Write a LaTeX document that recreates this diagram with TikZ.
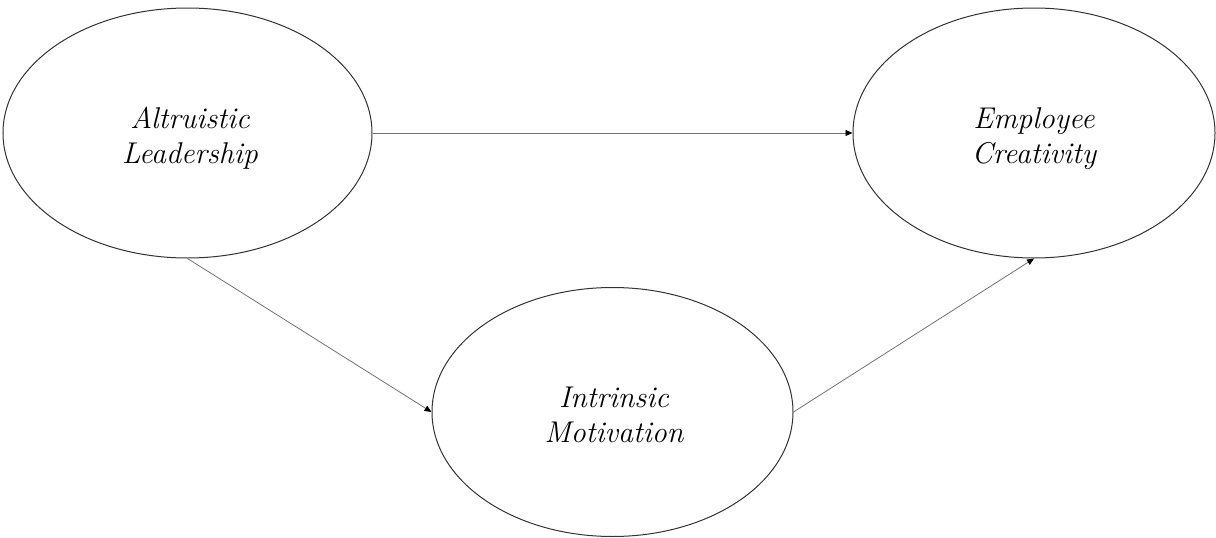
\documentclass[tikz,border=0pt]{standalone}
\usetikzlibrary{shapes.geometric,arrows.meta}
\begin{document}
\begin{tikzpicture}[x=1pt,y=-1pt,
  construct/.style={ellipse,draw=black!80,line width=1pt,inner sep=0pt},
  label text/.style={align=center,font=\fontsize{30}{35}\selectfont\itshape,inner sep=0pt},
  path/.style={draw=black!55,line width=0.8pt,-{Triangle[length=7pt,width=6pt,fill=black,color=black]}}]
\useasboundingbox (0,0) rectangle (1216,538);
\node[construct,minimum width=369pt,minimum height=250pt] (al) at (187.5,133) {};
\node[construct,minimum width=362pt,minimum height=250pt] (ec) at (1034,133) {};
\node[construct,minimum width=361pt,minimum height=249pt] (im) at (612.5,412) {};
\node[label text,anchor=base] (alt) at (190,163) {Altruistic\\Leadership};
\node[label text,anchor=base] (ect) at (1034,163) {Employee\\Creativity};
\node[label text,anchor=base] (imt) at (614,442) {Intrinsic\\Motivation};
\draw[path] (al.east) -- (ec.west);
\draw[path] (al.south) -- (im.west);
\draw[path] (im.east) -- (ec.south);
\end{tikzpicture}
\end{document}
